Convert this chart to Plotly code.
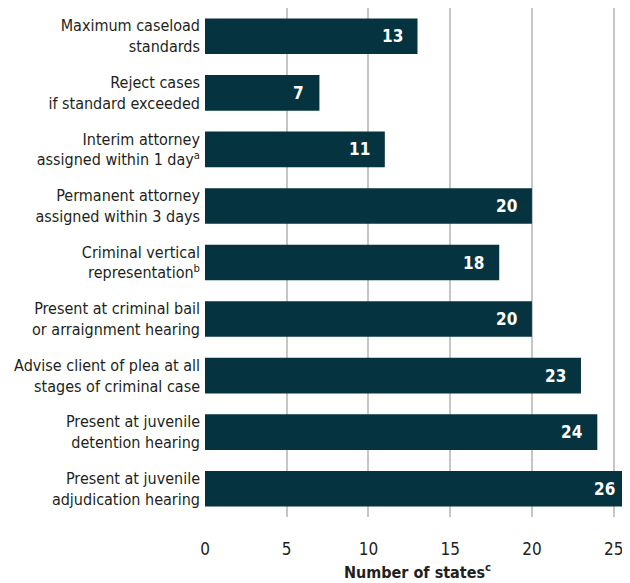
import plotly.graph_objects as go

categories = [
    "Maximum caseload<br>standards",
    "Reject cases<br>if standard exceeded",
    "Interim attorney<br>assigned within 1 day<sup>a</sup>",
    "Permanent attorney<br>assigned within 3 days",
    "Criminal vertical<br>representation<sup>b</sup>",
    "Present at criminal bail<br>or arraignment hearing",
    "Advise client of plea at all<br>stages of criminal case",
    "Present at juvenile<br>detention hearing",
    "Present at juvenile<br>adjudication hearing",
]
values = [13, 7, 11, 20, 18, 20, 23, 24, 26]
tick_vals = [0, 5, 10, 15, 20, 25]
x_title = "Number of states<sup>c</sup>"

FONT = "DejaVu Sans Condensed, DejaVu Sans, sans-serif"
BAR = "#05333f"

fig = go.Figure()
fig.add_trace(go.Bar(
    x=values, y=categories, orientation="h",
    marker=dict(color=BAR, line=dict(width=0)),
    hoverinfo="skip",
))
for v, c in zip(values, categories):
    fig.add_annotation(x=v, y=c, text=f"<b>{v}</b>", showarrow=False,
                       xanchor="right", xshift=-13,
                       font=dict(family=FONT, size=17, color="white"))

# page body has an 8px default margin, so the figure is offset by 8px
fig.update_layout(
    width=622, height=575,
    margin=dict(l=197, r=0, t=0, b=66, autoexpand=False),
    paper_bgcolor="white", plot_bgcolor="white",
    bargap=0.37,
    showlegend=False,
    font=dict(family=FONT, size=16, color="#231f20"),
)
fig.update_xaxes(
    range=[0, 26], tickvals=tick_vals, ticks="", automargin=False,
    showgrid=True, gridcolor="#c6c6c6", gridwidth=1.5,
    zeroline=False, showline=False,
    tickfont=dict(size=17), ticklabelstandoff=20,
    title=dict(text="<b>" + x_title + "</b>", font=dict(size=16), standoff=8),
)
fig.update_yaxes(
    autorange="reversed", ticks="", showgrid=False, showline=False,
    automargin=False, ticklabelstandoff=4,
    tickfont=dict(size=16),
)
fig.write_html("out.html")
